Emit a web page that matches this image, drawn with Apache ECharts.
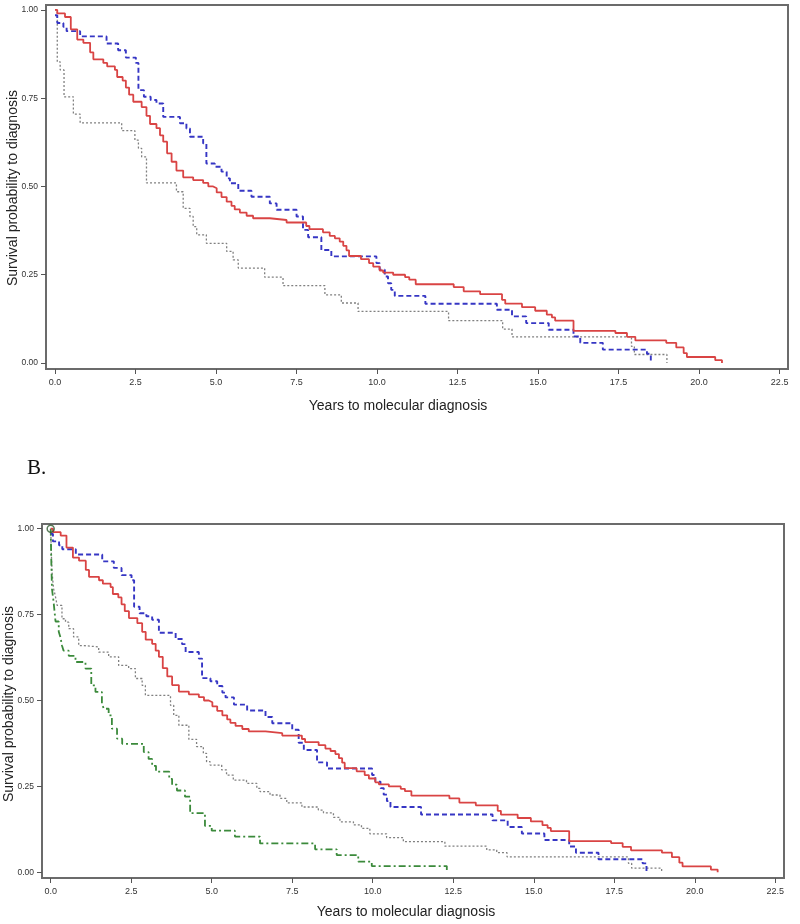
<!DOCTYPE html>
<html>
<head>
<meta charset="utf-8">
<script src="https://cdn.jsdelivr.net/npm/echarts@6/dist/echarts.min.js"></script>
<style>
html,body{margin:0;padding:0;background:#fff;}
#chart{width:800px;height:924px;}
</style>
</head>
<body>
<div id="chart"></div>
<script>
// ---- Data ----
const xTickValues = [0, 2.5, 5, 7.5, 10, 12.5, 15, 17.5, 20, 22.5];
const yTickValues = [0, 0.25, 0.5, 0.75, 1];

// Red solid group (same in both panels)
const redTimes = [0, 0.07, 0.31, 0.49, 0.69, 0.88, 1.09, 1.19, 1.5, 1.62, 1.86, 1.93, 2.1, 2.2, 2.3, 2.43, 2.69, 2.84, 2.95, 3.15, 3.26, 3.36, 3.48, 3.62, 3.77, 3.98, 4.29, 4.6, 4.76, 4.91, 5.02, 5.17, 5.33, 5.48, 5.58, 5.74, 5.95, 6.15, 6.67, 7.19, 7.8, 7.9, 8.32, 8.53, 8.69, 8.84, 8.95, 9.05, 9.13, 9.5, 9.75, 9.88, 10.08, 10.19, 10.5, 10.87, 11.0, 11.2, 12.38, 12.69, 13.2, 13.88, 13.98, 14.5, 14.91, 15.27, 15.43, 15.53, 16.1, 17.4, 17.76, 18.02, 18.98, 19.29, 19.52, 19.62, 20.5, 20.71];
const redSurv = [1.0, 0.99, 0.98, 0.945, 0.916, 0.907, 0.88, 0.86, 0.85, 0.84, 0.83, 0.81, 0.80, 0.78, 0.76, 0.74, 0.725, 0.70, 0.677, 0.665, 0.645, 0.627, 0.594, 0.57, 0.545, 0.526, 0.518, 0.51, 0.50, 0.495, 0.483, 0.47, 0.457, 0.445, 0.435, 0.426, 0.417, 0.41, 0.405, 0.398, 0.388, 0.379, 0.37, 0.36, 0.353, 0.344, 0.332, 0.319, 0.303, 0.294, 0.283, 0.273, 0.262, 0.256, 0.25, 0.243, 0.236, 0.223, 0.215, 0.203, 0.195, 0.179, 0.168, 0.158, 0.148, 0.137, 0.129, 0.12, 0.091, 0.085, 0.074, 0.064, 0.057, 0.044, 0.028, 0.017, 0.008, 0.0];

// Blue dashed group (same in both panels)
const blueTimes = [0, 0.07, 0.26, 0.36, 0.78, 1.6, 1.96, 2.2, 2.51, 2.59, 2.76, 2.97, 3.15, 3.36, 3.88, 4.08, 4.19, 4.6, 4.7, 4.96, 5.17, 5.33, 5.43, 5.69, 6.1, 6.67, 6.88, 7.5, 7.7, 7.86, 8.27, 8.58, 9.98, 10.08, 10.24, 10.34, 10.44, 10.55, 11.5, 13.72, 14.19, 14.63, 15.33, 16.1, 16.31, 17.01, 18.38, 18.5];
const blueSurv = [0.985, 0.963, 0.952, 0.94, 0.925, 0.905, 0.886, 0.865, 0.85, 0.773, 0.754, 0.745, 0.735, 0.697, 0.679, 0.664, 0.641, 0.622, 0.565, 0.556, 0.542, 0.523, 0.509, 0.488, 0.471, 0.452, 0.434, 0.415, 0.377, 0.356, 0.32, 0.302, 0.283, 0.264, 0.245, 0.226, 0.207, 0.19, 0.168, 0.151, 0.132, 0.113, 0.094, 0.075, 0.057, 0.038, 0.026, 0.0];

// Gray dotted group, panel A
const grayATimes = [0, 0.07, 0.16, 0.28, 0.57, 0.78, 2.07, 2.48, 2.59, 2.69, 2.84, 3.77, 3.98, 4.19, 4.29, 4.4, 4.7, 5.33, 5.53, 5.69, 6.51, 7.08, 8.38, 8.89, 9.41, 12.22, 13.9, 14.19, 17.9, 17.99, 19.0];
const grayASurv = [1.0, 0.853, 0.83, 0.754, 0.705, 0.68, 0.658, 0.631, 0.608, 0.584, 0.51, 0.485, 0.438, 0.415, 0.386, 0.363, 0.339, 0.316, 0.292, 0.269, 0.243, 0.219, 0.193, 0.17, 0.146, 0.12, 0.096, 0.074, 0.047, 0.024, 0.0];

// Gray dotted group, panel B
const grayBTimes = [0, 0.02, 0.04, 0.09, 0.14, 0.2, 0.35, 0.46, 0.56, 0.71, 0.87, 1.02, 1.49, 1.8, 2.11, 2.42, 2.63, 2.84, 2.94, 3.72, 3.82, 3.98, 4.29, 4.53, 4.74, 4.84, 4.95, 5.31, 5.46, 5.67, 6.08, 6.4, 6.5, 6.81, 7.12, 7.33, 7.8, 8.31, 8.47, 8.78, 8.98, 9.4, 9.65, 9.91, 10.43, 10.95, 12.24, 13.54, 13.85, 14.17, 17.94, 18.04, 18.97];
const grayBSurv = [1.0, 0.93, 0.874, 0.825, 0.806, 0.777, 0.738, 0.728, 0.709, 0.685, 0.66, 0.656, 0.641, 0.627, 0.602, 0.593, 0.564, 0.544, 0.515, 0.486, 0.457, 0.428, 0.387, 0.366, 0.346, 0.322, 0.312, 0.298, 0.283, 0.268, 0.259, 0.244, 0.235, 0.225, 0.215, 0.202, 0.19, 0.181, 0.173, 0.16, 0.147, 0.138, 0.128, 0.112, 0.101, 0.089, 0.076, 0.065, 0.057, 0.045, 0.026, 0.012, 0.0];

// Green dash-dot group, panel B
const greenTimes = [0, 0.02, 0.04, 0.09, 0.15, 0.25, 0.3, 0.35, 0.4, 0.56, 0.77, 1.08, 1.26, 1.39, 1.59, 1.65, 1.8, 1.9, 2.06, 2.22, 2.89, 3.04, 3.15, 3.27, 3.68, 3.77, 3.92, 4.17, 4.33, 4.79, 5.0, 5.72, 6.5, 8.21, 8.88, 9.55, 9.97, 12.3];
const greenSurv = [1.0, 0.9, 0.825, 0.787, 0.73, 0.70, 0.685, 0.66, 0.645, 0.63, 0.612, 0.593, 0.544, 0.525, 0.49, 0.476, 0.457, 0.418, 0.389, 0.374, 0.35, 0.33, 0.31, 0.293, 0.272, 0.255, 0.238, 0.22, 0.172, 0.135, 0.121, 0.104, 0.084, 0.067, 0.05, 0.031, 0.018, 0.0];

// Censor-like circle at origin of panel B
const originMarkB = [[0, 1.0]];

// ---- Chart ----
const zip = (t, s) => t.map((x, i) => [x, s[i]]);
const FONT = '"Liberation Sans", Arial, sans-serif';

function xAxisFor(gi, min, max) {
  return {
    gridIndex: gi, type: 'value', min: min, max: max, position: 'bottom',
    splitLine: {show: false},
    axisLine: {show: false, onZero: false},
    axisTick: {show: true, customValues: xTickValues, length: 5, lineStyle: {color: '#555', width: 1}},
    axisLabel: {customValues: xTickValues, formatter: v => v.toFixed(1), fontSize: 9, color: '#333', margin: 9, fontFamily: FONT}
  };
}
function yAxisFor(gi, min, max, margin) {
  return {
    gridIndex: gi, type: 'value', min: min, max: max, position: 'left',
    splitLine: {show: false},
    axisLine: {show: false, onZero: false},
    axisTick: {show: true, customValues: yTickValues, length: 5, lineStyle: {color: '#555', width: 1}},
    axisLabel: {customValues: yTickValues, formatter: v => v.toFixed(2), fontSize: 8.5, color: '#333', margin: margin, fontFamily: FONT}
  };
}
function km(name, gi, t, s, color, width, type, z) {
  return {
    name: name, type: 'line', xAxisIndex: gi, yAxisIndex: gi,
    data: zip(t, s), step: 'end', showSymbol: false, symbol: 'none',
    lineStyle: {color: color, width: width, type: type}, z: z, silent: true
  };
}

const RED = '#d94444', BLUE = '#3636c4', GRAY = '#808080', GREEN = '#3b8a3b';

const option = {
  animation: false,
  backgroundColor: '#ffffff',
  grid: [
    {left: 46, top: 5, width: 742, height: 364, show: true, borderColor: '#6b6b6b', borderWidth: 2, backgroundColor: 'transparent'},
    {left: 42, top: 524, width: 742, height: 354, show: true, borderColor: '#6b6b6b', borderWidth: 2, backgroundColor: 'transparent'}
  ],
  xAxis: [xAxisFor(0, -0.28, 22.76), xAxisFor(1, -0.27, 22.77)],
  yAxis: [yAxisFor(0, -0.017, 1.014, 8), yAxisFor(1, -0.0166, 1.0137, 8)],
  series: [
    km('grayA', 0, grayATimes, grayASurv, GRAY, 1.3, [2, 2], 2),
    km('blueA', 0, blueTimes, blueSurv, BLUE, 1.9, [5, 3], 3),
    km('redA', 0, redTimes, redSurv, RED, 1.8, 'solid', 4),
    km('grayB', 1, grayBTimes, grayBSurv, GRAY, 1.3, [2, 2], 2),
    km('greenB', 1, greenTimes, greenSurv, GREEN, 1.8, [7, 3, 2, 3], 3),
    km('blueB', 1, blueTimes, blueSurv, BLUE, 1.9, [5, 3], 3),
    km('redB', 1, redTimes, redSurv, RED, 1.8, 'solid', 4),
    {
      type: 'scatter', xAxisIndex: 1, yAxisIndex: 1, data: originMarkB,
      symbol: 'circle', symbolSize: 7, silent: true, z: 5,
      itemStyle: {color: 'rgba(0,0,0,0)', borderColor: '#2f5a2f', borderWidth: 1.5}
    }
  ],
  graphic: [
    {type: 'text', x: 13, y: 188, rotation: Math.PI / 2,
     style: {text: 'Survival probability to diagnosis', font: '14px ' + FONT, fill: '#222', textAlign: 'center', textVerticalAlign: 'middle'}},
    {type: 'text', x: 398, y: 406,
     style: {text: 'Years to molecular diagnosis', font: '14px ' + FONT, fill: '#222', textAlign: 'center', textVerticalAlign: 'middle'}},
    {type: 'text', x: 27, y: 468,
     style: {text: 'B.', font: '21px "Liberation Serif", "Times New Roman", serif', fill: '#111', textAlign: 'left', textVerticalAlign: 'middle'}},
    {type: 'text', x: 9, y: 704, rotation: Math.PI / 2,
     style: {text: 'Survival probability to diagnosis', font: '14px ' + FONT, fill: '#222', textAlign: 'center', textVerticalAlign: 'middle'}},
    {type: 'text', x: 406, y: 912,
     style: {text: 'Years to molecular diagnosis', font: '14px ' + FONT, fill: '#222', textAlign: 'center', textVerticalAlign: 'middle'}}
  ]
};

const chart = echarts.init(document.getElementById('chart'), null, {renderer: 'canvas'});
chart.setOption(option);
</script>
</body>
</html>
